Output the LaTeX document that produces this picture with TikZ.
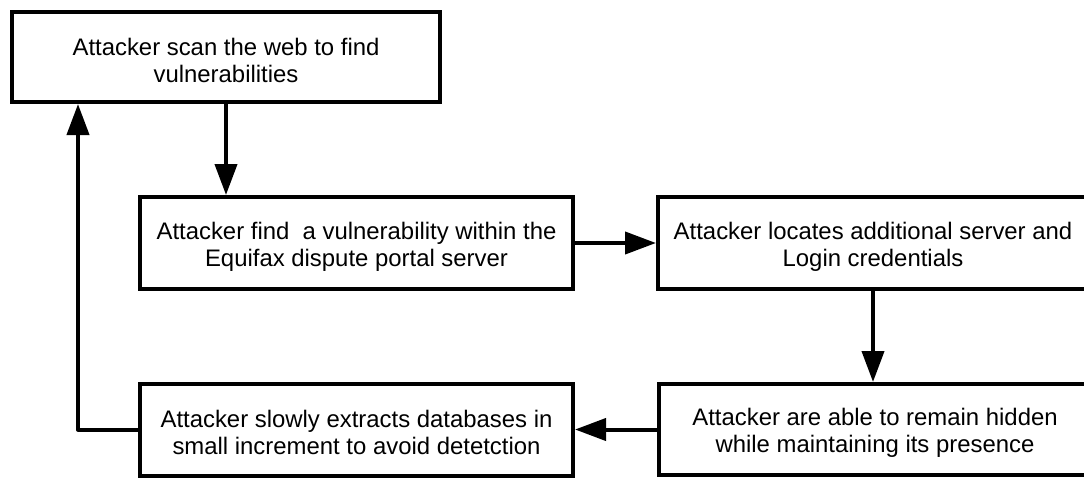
\documentclass[tikz,border=0pt]{standalone}
\usepackage{fontspec}
\setmainfont{Liberation Sans}
\usetikzlibrary{arrows.meta,calc}
\newcommand{\lowerstrut}{\rule{0pt}{24pt}}
\tikzset{
  stepbox/.style={draw=black, line width=4pt, rectangle, fill=white, align=center,
    inner sep=0pt, font=\fontsize{23.9}{27}\selectfont, text=black},
  flow/.style={line width=4pt, -{Triangle[length=31pt,width=22pt]}}
}
\begin{document}
\begin{tikzpicture}[x=1pt,y=-1pt]
\path[use as bounding box, clip] (0,0) rectangle (1084,477);
\node[stepbox, minimum width=428pt, minimum height=90pt] (b1) at (226,57)
  {\lowerstrut Attacker scan the web to find\\vulnerabilities};
\node[stepbox, minimum width=433pt, minimum height=92pt] (b2) at (356.5,243)
  {\lowerstrut Attacker find\ \ a vulnerability within the\\Equifax dispute portal server};
\node[stepbox, minimum width=430pt, minimum height=92pt] (b3) at (873,243)
  {\lowerstrut Attacker locates additional server and\\Login credentials};
\node[stepbox, minimum width=432pt, minimum height=91pt] (b4) at (875,429.5)
  {\lowerstrut Attacker are able to remain hidden\\while maintaining its presence};
\node[stepbox, minimum width=433pt, minimum height=92pt] (b5) at (356.5,429.5)
  {\lowerstrut Attacker slowly extracts databases in\\small increment to avoid detetction};
\coordinate (up) at (78,104);
\draw[flow] (b1.south) -- (b1.south |- b2.north);
\draw[flow] (b2.east) -- (b3.west);
\draw[flow] (b3.south) -- (b3.south |- b4.north);
\draw[flow] (b4.west) -- (b5.east);
\draw[flow, line join=round] (b5.west) -| (up);
\end{tikzpicture}
\end{document}
